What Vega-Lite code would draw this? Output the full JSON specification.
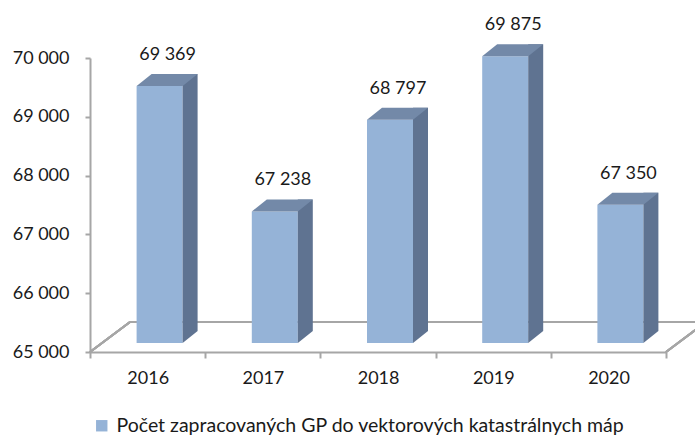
{
  "$schema": "https://vega.github.io/schema/vega-lite/v6.json",
  "width": 576,
  "height": 294,
  "autosize": {"type": "none"},
  "padding": {"left": 90, "top": 58, "right": 29, "bottom": 84},
  "background": "white",
  "config": {"view": {"stroke": null}, "font": "Lato"},
  "data": {"values": [
    {"year": "2016", "value": 69369, "series": "Počet zapracovaných GP do vektorových katastrálnych máp"},
    {"year": "2017", "value": 67238, "series": "Počet zapracovaných GP do vektorových katastrálnych máp"},
    {"year": "2018", "value": 68797, "series": "Počet zapracovaných GP do vektorových katastrálnych máp"},
    {"year": "2019", "value": 69875, "series": "Počet zapracovaných GP do vektorových katastrálnych máp"},
    {"year": "2020", "value": 67350, "series": "Počet zapracovaných GP do vektorových katastrálnych máp"}
  ]},
  "transform": [{"calculate": "replace(format(datum.value, ','), ',', ' ')", "as": "label"}],
  "layer": [
    {
      "mark": {"type": "point", "shape": "M40,-30L616,-30", "size": 4, "filled": false, "color": "#a6a6a6", "strokeWidth": 2, "opacity": 1},
      "encoding": {
        "x": {"datum": "2016", "type": "nominal", "bandPosition": 0},
        "y": {"datum": 65000, "type": "quantitative"}
      }
    },
    {
      "mark": {"type": "point", "shape": "M0,0L40,-30", "size": 4, "filled": false, "color": "#a6a6a6", "strokeWidth": 2, "opacity": 1},
      "encoding": {
        "x": {"datum": "2016", "type": "nominal", "bandPosition": 0},
        "y": {"datum": 65000, "type": "quantitative"}
      }
    },
    {
      "mark": {"type": "point", "shape": "M0,0L40,-30", "size": 4, "filled": false, "color": "#a6a6a6", "strokeWidth": 2, "opacity": 1},
      "encoding": {
        "x": {"datum": "2020", "type": "nominal", "bandPosition": 1},
        "y": {"datum": 65000, "type": "quantitative"}
      }
    },
    {
      "mark": {"type": "bar", "width": 46, "xOffset": 12, "yOffset": -9, "y2Offset": -9, "opacity": 1},
      "encoding": {
        "x": {
          "field": "year", "type": "nominal",
          "scale": {"paddingInner": 0, "paddingOuter": 0},
          "axis": {
            "title": null, "labelAngle": 0, "labelFont": "Lato", "labelFontSize": 18, "labelColor": "#1a1a1a",
            "domainColor": "#a6a6a6", "domainWidth": 2, "tickColor": "#a6a6a6", "tickWidth": 2, "tickSize": 6,
            "tickBand": "extent", "labelPadding": 20, "labelOffset": 21
          }
        },
        "y": {
          "field": "value", "type": "quantitative",
          "scale": {"domain": [65000, 70000], "zero": false, "nice": false},
          "axis": {
            "title": null, "grid": false, "values": [65000, 66000, 67000, 68000, 69000, 70000],
            "labelExpr": "replace(format(datum.value, ','), ',', ' ')",
            "labelFont": "Lato", "labelFontSize": 18, "labelColor": "#1a1a1a", "labelPadding": 16,
            "domainColor": "#a6a6a6", "domainWidth": 2, "tickColor": "#a6a6a6", "tickWidth": 2, "tickSize": 5
          }
        },
        "y2": {"datum": 65000},
        "color": {
          "field": "series", "type": "nominal",
          "scale": {"range": ["#95b3d7"]},
          "legend": {
            "title": null, "orient": "none", "legendX": 2, "legendY": 358,
            "symbolType": "square", "symbolSize": 130, "symbolStrokeWidth": 0, "labelOffset": 5,
            "labelFont": "Lato", "labelFontSize": 19.5, "labelColor": "#1a1a1a", "labelLimit": 700
          }
        }
      }
    },
    {
      "mark": {"type": "bar", "width": 15, "xOffset": 42.5, "yOffset": -21, "y2Offset": -21, "color": "#5f7391", "opacity": 1},
      "encoding": {
        "x": {"field": "year", "type": "nominal"},
        "y": {"field": "value", "type": "quantitative"},
        "y2": {"datum": 65000}
      }
    },
    {
      "mark": {"type": "point", "shape": "M35,-21L35,-9L50,-21Z", "size": 4, "filled": true, "color": "#5f7391", "strokeWidth": 0, "opacity": 1},
      "encoding": {
        "x": {"field": "year", "type": "nominal"},
        "y": {"datum": 65000, "type": "quantitative"}
      }
    },
    {
      "mark": {"type": "point", "shape": "M-11,-9L35,-9L50,-21L4,-21Z", "size": 4, "filled": true, "color": "#7389a8", "strokeWidth": 0, "opacity": 1},
      "encoding": {
        "x": {"field": "year", "type": "nominal"},
        "y": {"field": "value", "type": "quantitative"}
      }
    },
    {
      "mark": {"type": "text", "dx": 20, "dy": -35, "align": "center", "baseline": "alphabetic", "font": "Lato", "fontSize": 18, "color": "#1a1a1a"},
      "encoding": {
        "x": {"field": "year", "type": "nominal"},
        "y": {"field": "value", "type": "quantitative"},
        "text": {"field": "label"}
      }
    }
  ]
}
